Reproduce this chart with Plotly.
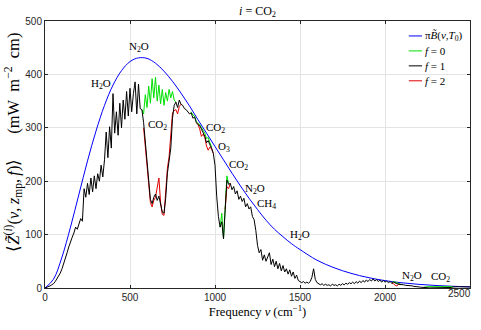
import plotly.graph_objects as go

# ---------------------------------------------------------------
# Spectral data (frequency in cm^-1, values in mW m^-2 cm)
# ---------------------------------------------------------------

# Surface emission pi*B(nu, T0)
nu_B = [0, 50, 100, 150, 200, 250, 300, 350, 400, 450, 500, 550, 600, 650,
        700, 750, 800, 850, 900, 950, 1000, 1050, 1100, 1150, 1200, 1250,
        1300, 1350, 1400, 1450, 1500, 1600, 1700, 1800, 1900, 2000, 2100,
        2200, 2300, 2400, 2500]
B_vals = [0, 16.5, 58, 114, 176, 238, 294, 342, 380, 407,
          424, 431, 430, 421, 406, 387, 365, 341, 315,
          290, 265, 240, 215, 191, 168, 147, 127, 110,
          96, 83, 72, 52, 38, 27.5, 19.6, 13.8, 9.7, 6.8, 4.7,
          3.2, 2.2]

# f = 1 spectrum on a 10 cm^-1 grid
nu_f1 = list(range(0, 2510, 10))
Z_f1 = [
    0, 1, 2.5, 4, 6, 8, 12, 17, 22, 28,                     # 0
    36, 45, 55, 66, 77, 88, 95, 103, 114, 110,              # 100
    122, 130, 125, 186, 170, 196, 175, 206, 180, 210,       # 200
    186, 214, 200, 230, 208, 240, 292, 244, 302, 262,       # 300
    364, 290, 330, 286, 346, 300, 352, 316, 368, 322,       # 400
    374, 330, 364, 386, 326, 382, 336, 334, 310, 272,       # 500
    240, 200, 166, 158, 170, 176, 164, 172, 158, 142,       # 600
    140, 168, 215, 236, 262, 318, 342, 348, 338, 352,       # 700
    344, 342, 336, 334, 330, 326, 328, 318, 320, 310,       # 800
    306, 304, 298, 292, 284, 272, 276, 268, 262, 252,       # 900
    230, 172, 134, 114, 124, 92, 150, 202, 194, 196,        # 1000
    184, 190, 176, 182, 166, 172, 162, 168, 152, 158,       # 1100
    148, 152, 134, 128, 108, 80, 66, 72, 52, 62,            # 1200
    50, 58, 66, 44, 54, 40, 50, 36, 46, 32,                 # 1300
    42, 30, 36, 26, 34, 22, 30, 18, 24, 14,                 # 1400
    12, 10, 12, 9, 11, 9, 12, 20, 36, 16,                   # 1500
    10, 8, 6, 8, 5, 7, 5, 6, 4, 7,                          # 1600
    5, 6, 4, 7, 5, 8, 6, 9, 7, 10,                          # 1700
    8, 11, 8, 12, 9, 13, 10, 14, 11, 15,                    # 1800
    12, 16, 13, 17, 13, 16, 12, 15, 11, 14,                 # 1900
    11, 13, 10, 12, 9, 11, 9, 8, 7, 7,                      # 2000
    6, 6, 5, 5, 4, 4, 4, 3, 3, 2.5,                         # 2100
    2, 1.5, 1, 0.5, 0.3, 0.2, 0.2, 0.2, 0.2, 0.2,           # 2200
    0.2, 0.2, 0.2, 0.2, 0.2, 0.2, 0.2, 0.2, 0.2, 1,         # 2300
    2, 2.5, 2.5, 2.4, 2.3, 2.2, 2.2, 2.1, 2.1, 2.0,         # 2400
    2.0,                                                    # 2500
]

# f = 0 spectrum, only where it departs from f = 1 (None breaks the line)
nu_f0 = [570, 580, 590, 600, 610, 620, 630, 640, 650, 660, 670, 680, 690,
         700, 710, 720, 730, 740, 750, 760, 770, None,
         860, 870, 880, 890, 900, 910, 920, 930, 940, 950, 960, 970, 980, None,
         1030, 1040, 1050, 1060, 1070, 1080, None,
         2040, 2050, 2060, 2070, 2080, 2090, 2100, None,
         2230, 2250, 2300, 2350, 2390, 2400]
Z_f0 = [334, 326, 362, 338, 378, 346, 392, 356, 395, 350, 380, 345, 372,
        342, 366, 350, 372, 356, 368, 352, 348, None,
        330, 324, 322, 312, 308, 306, 300, 296, 290, 280, 282, 272, 264, None,
        114, 140, 92, 155, 210, 196, None,
        10, 12, 11, 10, 9, 8, 6, None,
        1.5, 2.5, 2.5, 2.5, 2.5, 2.5]

# f = 2 spectrum, only where it departs from f = 1
nu_f2 = [580, 590, 600, 610, 620, 630, 640, 650, 660, 670, 680, 690, 700,
         710, 720, 730, 740, 750, 760, 770, 780, 790, 800, None,
         890, 900, 910, 920, 930, 940, 950, 960, 970, 980, 990, None,
         1060, 1070, 1080, 1090, None,
         2040, 2050, 2060, 2070, 2080, 2090]
Z_f2 = [300, 262, 228, 190, 160, 152, 164, 170, 186, 206, 160, 138, 136,
        176, 224, 246, 280, 328, 332, 334, 326, 340, 344, None,
        310, 306, 298, 284, 288, 282, 266, 258, 264, 260, 252, None,
        148, 190, 186, 196, None,
        9, 8, 5, 4, 7, 7]

# Axis ticks (the last x label is placed separately, inside the figure)
x_ticks = [0, 500, 1000, 1500, 2000, 2500]
x_ticklabels = ["0", "500", "1000", "1500", "2000", ""]
x_last_label = "2500"
y_ticks = [0, 100, 200, 300, 400, 500]

# Absorber labels
gas_labels = ["N<sub>2</sub>O", "H<sub>2</sub>O", "CO<sub>2</sub>",
              "CO<sub>2</sub>", "O<sub>3</sub>", "CO<sub>2</sub>",
              "N<sub>2</sub>O", "CH<sub>4</sub>", "H<sub>2</sub>O",
              "N<sub>2</sub>O", "CO<sub>2</sub>"]
gas_nu = [555, 330, 659, 1003, 1050, 1138, 1238, 1300, 1500, 2160, 2324]
gas_Z = [452, 382, 306, 300, 264, 230, 186, 158, 100, 22, 20]

# Legend entries
legend_names = ["π<i>B̃</i>(<i>ν</i>,<i>T</i><sub>0</sub>)",
                "<i>f</i> = 0", "<i>f</i> = 1", "<i>f</i> = 2"]
legend_colors = ["#0000ff", "#00e000", "#000000", "#e00000"]

SERIF = "Liberation Serif"
SANS = "Liberation Sans"

fig = go.Figure()
fig.add_trace(go.Scatter(x=nu_B, y=B_vals, mode="lines", name=legend_names[0],
                         line=dict(color=legend_colors[0], width=1, shape="spline"),
                         showlegend=False))
fig.add_trace(go.Scatter(x=nu_f0, y=Z_f0, mode="lines", name=legend_names[1],
                         line=dict(color=legend_colors[1], width=1),
                         connectgaps=False, showlegend=False))
fig.add_trace(go.Scatter(x=nu_f2, y=Z_f2, mode="lines", name=legend_names[3],
                         line=dict(color=legend_colors[3], width=1),
                         connectgaps=False, showlegend=False))
fig.add_trace(go.Scatter(x=nu_f1, y=Z_f1, mode="lines", name=legend_names[2],
                         line=dict(color=legend_colors[2], width=1),
                         showlegend=False))

# Absorber annotations
for txt, xv, yv in zip(gas_labels, gas_nu, gas_Z):
    fig.add_annotation(x=xv, y=yv, text=txt, showarrow=False,
                       font=dict(family=SERIF, size=11, color="black"),
                       xanchor="center", yanchor="middle")

# Legend drawn inside the axes (top right)
leg_y = [472, 444, 416, 388]
for name, col, yv in zip(legend_names, legend_colors, leg_y):
    fig.add_shape(type="line", x0=2140, x1=2218, y0=yv, y1=yv,
                  line=dict(color=col, width=1), xref="x", yref="y")
    fig.add_annotation(x=2224, y=yv, text=name, showarrow=False,
                       xanchor="left", yanchor="middle",
                       font=dict(family=SERIF, size=11, color="black"))

# Right-most x tick label, pulled in so it stays inside the figure
fig.add_annotation(x=2441, xref="x", y=-0.019, yref="paper", text=x_last_label,
                   showarrow=False, xanchor="center", yanchor="middle",
                   font=dict(family=SANS, size=10, color="#262626"))

axis_common = dict(
    ticks="inside", ticklen=3, tickwidth=1, tickcolor="#262626",
    showline=True, linecolor="#262626", linewidth=1, mirror="allticks",
    showgrid=True, gridcolor="#e4e4e4", gridwidth=1, zeroline=False,
    tickfont=dict(family=SANS, size=10, color="#262626"),
    automargin=False,
)

y_title = ("&#8195;&#8194;⟨<i>Z̃</i><sup>(<i>i</i>)</sup>(<i>ν</i>,&#8201;<i>z</i><sub>mp</sub>,"
           "&#8201;<i>f</i>)⟩&#8195;&#8194;(mW&#8194;m<sup>−2</sup>&#8194;cm)")

fig.update_layout(
    width=481, height=330,
    margin=dict(l=45, r=11, t=21, b=42, autoexpand=False),
    paper_bgcolor="white", plot_bgcolor="white",
    title=dict(text="<i>i</i> = CO<sub>2</sub>", x=0.5355, xanchor="center",
               y=0.968, yanchor="middle", yref="container",
               font=dict(family=SERIF, size=12, color="black")),
    xaxis=dict(range=[0, 2500], tickvals=x_ticks, ticktext=x_ticklabels,
               title=dict(text="Frequency <i>ν</i> (cm<sup>−1</sup>)",
                          font=dict(family=SERIF, size=12.5, color="black"),
                          standoff=4),
               **axis_common),
    yaxis=dict(range=[0, 500], tickvals=y_ticks,
               title=dict(text=y_title,
                          font=dict(family=SERIF, size=16.5, color="black"),
                          standoff=1),
               **axis_common),
    showlegend=False,
)

fig.write_html("out.html")
